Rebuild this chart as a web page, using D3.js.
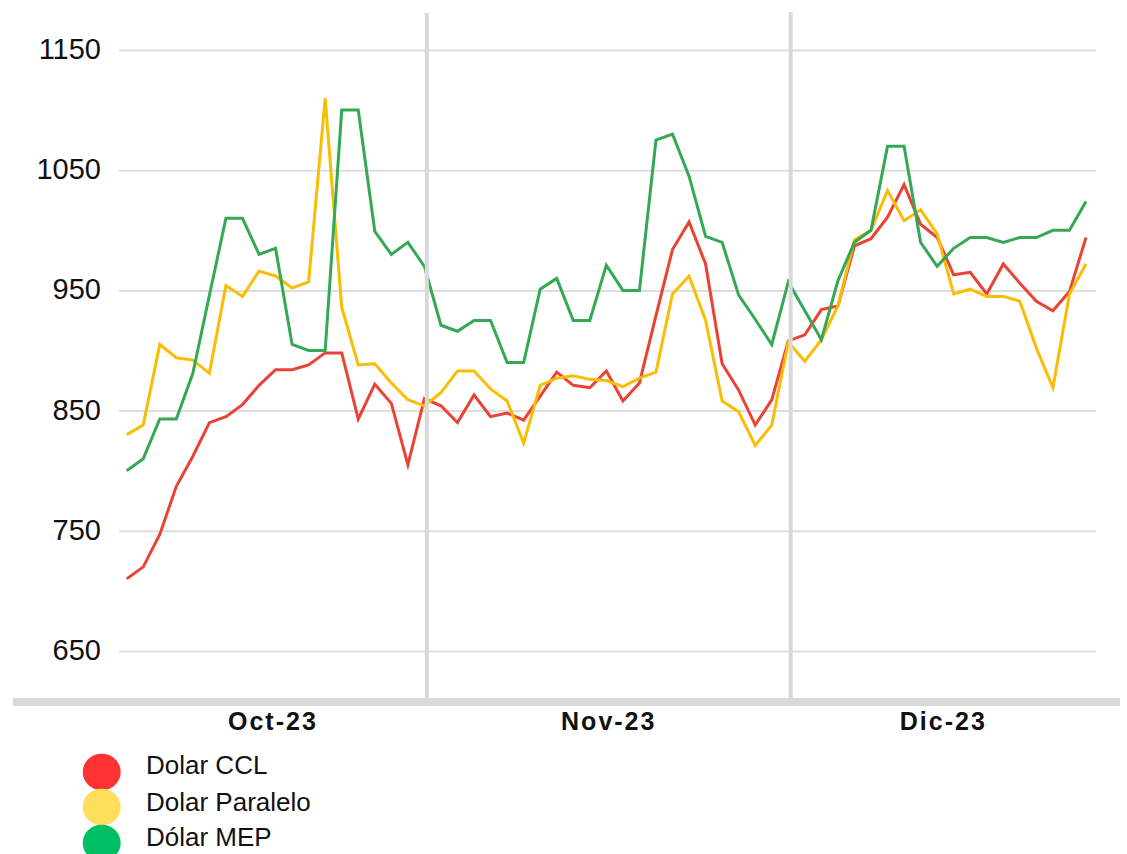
<!DOCTYPE html>
<html>
<head>
<meta charset="utf-8">
<script src="https://cdn.jsdelivr.net/npm/d3@7"></script>
<style>
  html, body { margin: 0; padding: 0; background: #ffffff; }
  svg { display: block; font-family: "Liberation Sans", Arial, sans-serif; }
</style>
</head>
<body>
<svg id="chart" width="1127" height="854"></svg>
<script>
// ---- data ----
const months = ["Oct-23", "Nov-23", "Dic-23"];
const monthCounts = [19, 22, 18];
const yTicks = [650, 750, 850, 950, 1050, 1150];

const seriesNames = ["Dolar CCL", "Dolar Paralelo", "Dólar MEP"];

const ccl = [710, 720, 747, 787, 812, 840, 845, 855, 871, 884, 884, 888, 898, 898, 843, 872, 856, 805, 860,
  854, 840, 863, 845, 848, 842, 862, 882, 871, 869, 883, 858, 873, 929, 984, 1007, 972, 889, 867, 838, 859, 908,
  913, 934, 937, 987, 993, 1011, 1038, 1005, 994, 963, 965, 947, 972, 956, 941, 933, 949, 994];

const paralelo = [830, 838, 905, 894, 892, 881, 954, 945, 966, 962, 952, 957, 1110, 936, 888, 889, 873, 859, 854,
  865, 883, 883, 868, 858, 823, 871, 877, 879, 876, 875, 870, 877, 882, 947, 962, 925, 858, 849, 821, 838, 907,
  891, 909, 937, 992, 1000, 1033, 1008, 1017, 997, 947, 951, 945, 945, 941, 902, 869, 947, 972];

const mep = [800, 810, 843, 843, 881, 946, 1010, 1010, 980, 985, 905, 900, 900, 1100, 1100, 999, 980, 990, 970,
  921, 916, 925, 925, 890, 890, 951, 960, 925, 925, 971, 950, 950, 1075, 1080, 1045, 995, 990, 946, 926, 905, 957,
  933, 909, 958, 990, 1000, 1070, 1070, 990, 970, 985, 994, 994, 990, 994, 994, 1000, 1000, 1024];

// ---- styles ----
const lineColors = ["#EA4335", "#FBBC04", "#34A853"];
const legendColors = ["#FF3333", "#FFDE59", "#00BF63"];

const svg = d3.select("#chart");
const plotLeft = 119, plotRight = 1096;
const n = ccl.length;

const x = d3.scaleLinear().domain([0, n - 1]).range([126.7, 1086]);
const y = d3.scaleLinear().domain([650, 1150]).range([651, 50]);

// gridlines + y labels
const yAxis = d3.axisLeft(y)
  .tickValues(yTicks)
  .tickSize(-(plotRight - plotLeft))
  .tickPadding(18)
  .tickFormat(d3.format("d"));

const gy = svg.append("g")
  .attr("transform", `translate(${plotLeft},0)`)
  .call(yAxis);
gy.select(".domain").remove();
gy.selectAll(".tick line").attr("stroke", "#dedede").attr("stroke-width", 2);
gy.selectAll(".tick text")
  .attr("fill", "#111")
  .attr("font-size", 29)
  .attr("font-family", "'Liberation Sans', Arial, sans-serif")
  .attr("dy", "0.29em");

// lines
const line = d3.line().x((d, i) => x(i)).y(d => y(d));
[ccl, paralelo, mep].forEach((s, k) => {
  svg.append("path")
    .datum(s)
    .attr("fill", "none")
    .attr("stroke", lineColors[k])
    .attr("stroke-width", 3)
    .attr("stroke-linejoin", "miter")
    .attr("d", line);
});

// month separators and labels
let idx = 0;
const bounds = [plotLeft];
monthCounts.forEach((c, m) => {
  idx += c;
  if (m < monthCounts.length - 1) bounds.push(x(idx - 1) + 2.4);
});
bounds.push(plotRight);

bounds.slice(1, -1).forEach((bx, i) => {
  svg.append("line")
    .attr("x1", bx).attr("x2", bx)
    .attr("y1", i === 0 ? 13 : 12).attr("y2", 699)
    .attr("stroke", "#d9d9d9")
    .attr("stroke-width", 4);
});

// bottom axis band
svg.append("line")
  .attr("x1", 13).attr("x2", 1120)
  .attr("y1", 702).attr("y2", 702)
  .attr("stroke", "#d9d9d9")
  .attr("stroke-width", 8);

months.forEach((mName, m) => {
  svg.append("text")
    .attr("x", (bounds[m] + bounds[m + 1]) / 2)
    .attr("y", 730)
    .attr("text-anchor", "middle")
    .attr("font-size", 25)
    .attr("font-weight", "bold")
    .attr("letter-spacing", "2px")
    .attr("fill", "#111")
    .text(mName);
});

// legend
const legendY = [772, 807, 843];
const textY = [773.5, 810.5, 846];
seriesNames.forEach((name, k) => {
  svg.append("ellipse")
    .attr("cx", 101.7).attr("cy", legendY[k])
    .attr("rx", 19).attr("ry", 18.3)
    .attr("fill", legendColors[k]);
  svg.append("text")
    .attr("x", 146)
    .attr("y", textY[k])
    .attr("font-size", 26)
    .attr("fill", "#111")
    .text(name);
});
</script>
</body>
</html>
